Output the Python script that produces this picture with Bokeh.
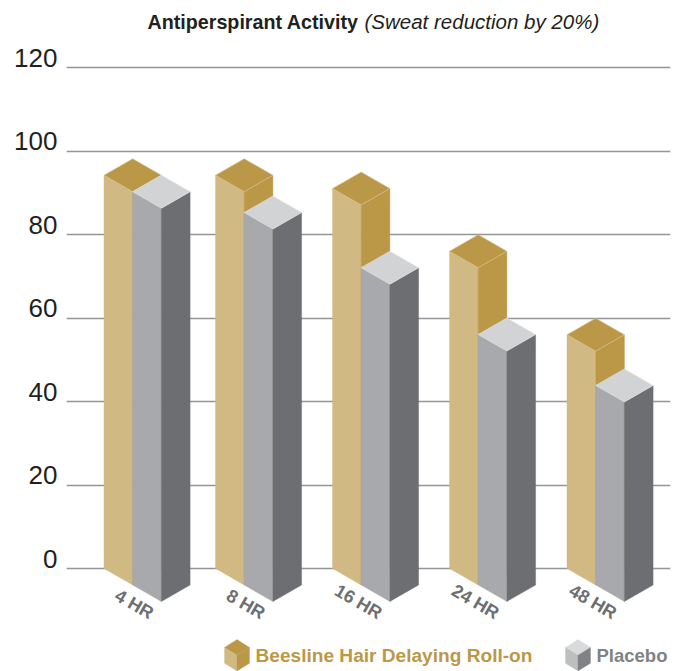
from bokeh.plotting import figure
from bokeh.models import Range1d, LinearAxis, Grid, FixedTicker
from bokeh.core.properties import value
from bokeh.embed import file_html
from bokeh.resources import INLINE

# data
categories = ["4 HR", "8 HR", "16 HR", "24 HR", "48 HR"]
beesline = [94.2, 94.2, 91, 76, 56]
placebo = [94.2, 89.2, 76, 60, 47.8]
y_ticks = [0, 20, 40, 60, 80, 100, 120]
series_names = ["Beesline Hair Delaying Roll-on", "Placebo"]

# layout (page pixels)
PX = 4.175          # pixels per value unit
BASE = 568          # page y of value 0
TOP, BOTTOM = 0, 671
LEFT, RIGHT = 66, 670
group_left = [103.5, 215, 332, 449, 566.5]
W = 28.7            # width of a face
DX = 28.7; DY = 16.5 / PX

def py(pix):
    return (BASE - pix) / PX

GOLD_F, GOLD_T = "#d1b983", "#bb9847"
GRAY_F, GRAY_S, GRAY_T = "#a7a9ac", "#6d6e71", "#d1d3d4"
SANS = "Liberation Sans"

p = figure(width=681, height=671, x_range=Range1d(LEFT, RIGHT), y_range=Range1d(py(BOTTOM), py(TOP)),
           x_axis_location=None, y_axis_location=None, toolbar_location=None,
           output_backend="svg", min_border_left=LEFT, min_border_right=681 - RIGHT,
           min_border_top=0, min_border_bottom=0, outline_line_color=None,
           background_fill_color="white", border_fill_color="white")
p.grid.visible = False

p.add_layout(Grid(dimension=1, ticker=FixedTicker(ticks=y_ticks),
                  grid_line_color="#939598", grid_line_width=1.3))

# y tick labels sit above their lines
SHIFT = 10 / PX
p.extra_y_ranges = {"labels": Range1d(py(BOTTOM) - SHIFT, py(TOP) - SHIFT)}
ax = LinearAxis(y_range_name="labels", ticker=FixedTicker(ticks=y_ticks),
                axis_line_color=None, major_tick_line_color=None, minor_tick_line_color=None,
                major_label_text_font=SANS,
                major_label_text_font_size="26px",
                major_label_text_color="#231f20", major_label_standoff=3)
p.add_layout(ax, "left")

def box(x0, v, base, front, side, top, seam=None):
    """Isometric column: left corner x0 standing on base, top at value v."""
    p.patch([x0, x0 + W, x0 + W, x0], [base + v, base + v - DY, base - DY, base],
            fill_color=front, line_color=front, line_width=0.4)
    p.patch([x0 + W, x0 + W + DX, x0 + W + DX, x0 + W], [base + v - DY, base + v, base, base - DY],
            fill_color=side, line_color=side, line_width=0.4)
    p.patch([x0, x0 + W, x0 + W + DX, x0 + W], [base + v, base + v + DY, base + v, base + v - DY],
            fill_color=top, line_color=seam or top, line_width=0.6)

for x0, b, g in zip(group_left, beesline, placebo):
    box(x0, b, 0, GOLD_F, GOLD_T, GOLD_T, "#d8c594")
    box(x0 + W, g, -DY, GRAY_F, GRAY_S, GRAY_T, "#e6e7e8")

# category labels
for x0, c in zip(group_left, categories):
    p.text([x0 + 48], [py(614)], text=[c], angle=-30, angle_units="deg",
           text_font=value(SANS), text_font_style="bold", text_font_size="18px",
           text_color="#6d6e71", text_align="right", text_baseline="middle")

# title
p.text([147], [py(21)], text=["Antiperspirant Activity"], text_font=value(SANS),
       text_font_style="bold", text_font_size="19.7px", text_color="#231f20",
       text_align="left", text_baseline="middle")
p.text([364], [py(21)], text=["(Sweat reduction by 20%)"], text_font=value(SANS),
       text_font_style="italic", text_font_size="20.5px", text_color="#231f20",
       text_align="left", text_baseline="middle")

# legend
def cube(cx, top_y, hw, h, top, left, right):
    d = h / 4
    yt = top_y
    p.patch([cx, cx + hw, cx, cx - hw], [py(yt), py(yt + d), py(yt + 2 * d), py(yt + d)],
            fill_color=top, line_color=top, line_width=0.3)
    p.patch([cx - hw, cx, cx, cx - hw], [py(yt + d), py(yt + 2 * d), py(yt + h), py(yt + 3 * d)],
            fill_color=left, line_color=left, line_width=0.3)
    p.patch([cx + hw, cx, cx, cx + hw], [py(yt + d), py(yt + 2 * d), py(yt + h), py(yt + 3 * d)],
            fill_color=right, line_color=right, line_width=0.3)

LEG_TOP = 639
cube(236.5, LEG_TOP, 12.5, 31.5, GOLD_T, GOLD_F, GOLD_T)
cube(577.5, LEG_TOP, 12.5, 31.5, "#d9dadb", "#bcbec0", "#808285")
p.text([255], [py(655)], text=[series_names[0]], text_font=value(SANS), text_font_style="bold",
       text_font_size="19.1px", text_color=GOLD_T, text_align="left", text_baseline="middle")
p.text([596], [py(655)], text=[series_names[1]], text_font=value(SANS), text_font_style="bold",
       text_font_size="18.5px", text_color="#808285", text_align="left", text_baseline="middle")

open("out.html", "w").write(file_html(p, INLINE))
